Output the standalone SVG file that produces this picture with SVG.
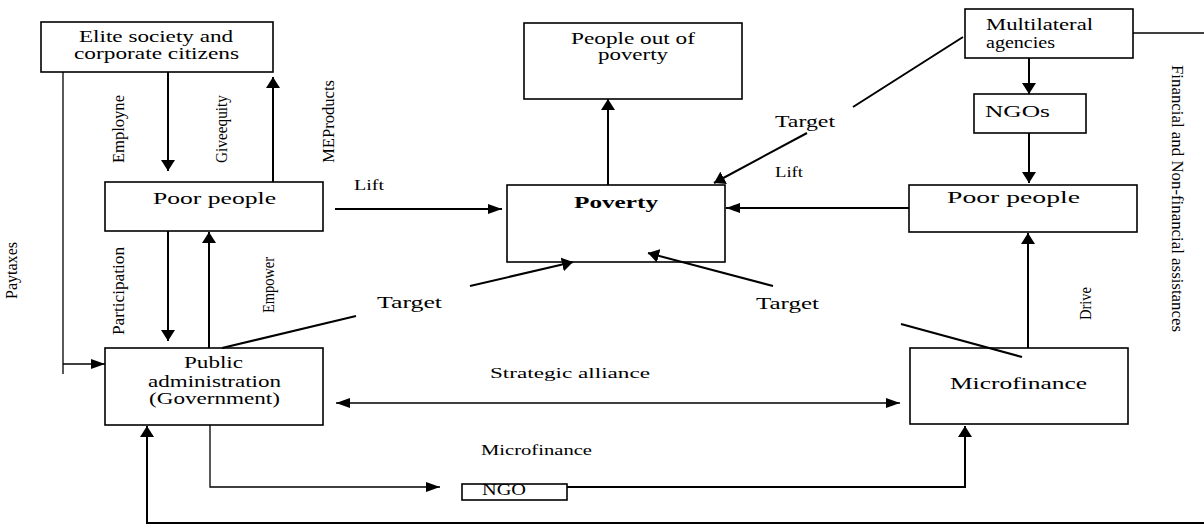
<svg xmlns="http://www.w3.org/2000/svg" width="1204" height="531" viewBox="0 0 1204 531">
<style>
text{font-family:"Liberation Serif","Times New Roman",serif;fill:#000}
.b{font-size:16px}
.s{font-size:14px}
.v{font-size:17px}
.bold{font-weight:bold}
rect{fill:#fff;stroke:#000;stroke-width:1.6}
.c line,.c polyline{fill:none;stroke:#000;stroke-width:2}
.c .t{stroke-width:1.3}
</style>
<defs>
<marker id="ah" markerUnits="userSpaceOnUse" markerWidth="11" markerHeight="14" refX="11" refY="7" orient="auto"><path d="M0,0 L11,7 L0,14 z" fill="#000"/></marker>
<marker id="as" markerUnits="userSpaceOnUse" markerWidth="14" markerHeight="10" refX="14" refY="5" orient="auto-start-reverse"><path d="M0,0 L14,5 L0,10 z" fill="#000"/></marker>
</defs>

<g id="elite"><rect x="41" y="22" width="232" height="50"/>
<text class="b" x="79" y="42" textLength="154" lengthAdjust="spacingAndGlyphs">Elite society and</text>
<text class="b" x="74" y="59" textLength="165" lengthAdjust="spacingAndGlyphs">corporate citizens</text></g>

<g id="poor-left"><rect x="105" y="182" width="218" height="49"/>
<text class="b" x="153" y="204" textLength="123" lengthAdjust="spacingAndGlyphs">Poor people</text></g>

<g id="public"><rect x="105" y="348" width="218" height="77"/>
<text class="b" x="184" y="368" textLength="59" lengthAdjust="spacingAndGlyphs">Public</text>
<text class="b" x="148" y="387" textLength="133" lengthAdjust="spacingAndGlyphs">administration</text>
<text class="b" x="149" y="404" textLength="131" lengthAdjust="spacingAndGlyphs">(Government)</text></g>

<g id="out"><rect x="524" y="23" width="218" height="76"/>
<text class="b" x="571" y="44" textLength="124" lengthAdjust="spacingAndGlyphs">People out of</text>
<text class="b" x="598" y="60" textLength="70" lengthAdjust="spacingAndGlyphs">poverty</text></g>

<g id="poverty"><rect x="507" y="185" width="218" height="77"/>
<text class="b bold" x="574" y="208" textLength="84" lengthAdjust="spacingAndGlyphs">Poverty</text></g>

<g id="multilateral"><rect x="965" y="9" width="168" height="49"/>
<text class="b" x="986" y="30" textLength="107" lengthAdjust="spacingAndGlyphs">Multilateral</text>
<text class="b" x="986" y="48" textLength="69" lengthAdjust="spacingAndGlyphs">agencies</text></g>

<g id="ngos"><rect x="974" y="94" width="112" height="39"/>
<text class="b" x="985" y="117" textLength="65" lengthAdjust="spacingAndGlyphs">NGOs</text></g>

<g id="poor-right"><rect x="909" y="185" width="228" height="47"/>
<text class="b" x="947" y="203" textLength="133" lengthAdjust="spacingAndGlyphs">Poor people</text></g>

<g id="microfinance"><rect x="910" y="348" width="218" height="76"/>
<text class="b" x="950" y="389" textLength="137" lengthAdjust="spacingAndGlyphs">Microfinance</text></g>

<g id="ngo"><rect x="462" y="484" width="105" height="16"/>
<text class="b" x="482" y="495" textLength="44" lengthAdjust="spacingAndGlyphs">NGO</text></g>

<g id="connectors" class="c">
<line x1="168" y1="72" x2="168" y2="171" marker-end="url(#ah)"/>
<line x1="273" y1="182" x2="273" y2="77" marker-end="url(#ah)"/>
<line x1="168" y1="231" x2="168" y2="341" marker-end="url(#ah)"/>
<line x1="209" y1="348" x2="209" y2="232" marker-end="url(#ah)"/>
<polyline class="t" points="63,72 63,374"/>
<line class="t" x1="63" y1="364" x2="105" y2="364" marker-end="url(#as)"/>
<line x1="335" y1="209" x2="502" y2="209" marker-end="url(#as)"/>
<line x1="608" y1="185" x2="608" y2="99" marker-end="url(#ah)"/>
<line x1="909" y1="208" x2="726" y2="208" marker-end="url(#as)"/>
<line x1="1029" y1="58" x2="1029" y2="94" marker-end="url(#ah)"/>
<line x1="1029" y1="133" x2="1029" y2="183" marker-end="url(#ah)"/>
<line x1="1028" y1="348" x2="1028" y2="233" marker-end="url(#ah)"/>
<line class="t" x1="1133" y1="33" x2="1204" y2="33"/>
<line x1="963" y1="37" x2="853" y2="107"/>
<line x1="807" y1="133" x2="714" y2="183" marker-end="url(#ah)"/>
<line x1="222" y1="348" x2="356" y2="316"/>
<line x1="470" y1="286" x2="573" y2="262" marker-end="url(#ah)"/>
<line x1="773" y1="286" x2="648" y2="253" marker-end="url(#ah)"/>
<line x1="901" y1="324" x2="1022" y2="357"/>
<line class="t" x1="336" y1="403" x2="900" y2="403" marker-start="url(#as)" marker-end="url(#as)"/>
<polyline class="t" points="210,425 210,487 440,487" marker-end="url(#as)"/>
<polyline points="567,487 965,487 965,426" marker-end="url(#ah)"/>
<polyline points="1204,523 147,523 147,426" marker-end="url(#ah)"/>
</g>

<g id="labels">
<text class="s" x="354" y="190" textLength="30" lengthAdjust="spacingAndGlyphs">Lift</text>
<text class="s" x="775" y="177" textLength="28" lengthAdjust="spacingAndGlyphs">Lift</text>
<text class="b" x="775" y="127" textLength="60" lengthAdjust="spacingAndGlyphs">Target</text>
<text class="b" x="377" y="308" textLength="65" lengthAdjust="spacingAndGlyphs">Target</text>
<text class="b" x="756" y="309" textLength="63" lengthAdjust="spacingAndGlyphs">Target</text>
<text class="s" x="490" y="378" textLength="160" lengthAdjust="spacingAndGlyphs">Strategic alliance</text>
<text class="s" x="481" y="455" textLength="111" lengthAdjust="spacingAndGlyphs">Microfinance</text>
<text class="v" transform="translate(124,163) rotate(-90)" textLength="68" lengthAdjust="spacingAndGlyphs">Employne</text>
<text class="v" transform="translate(227,163) rotate(-90)" textLength="68" lengthAdjust="spacingAndGlyphs">Giveequity</text>
<text class="v" transform="translate(334,163) rotate(-90)" textLength="83" lengthAdjust="spacingAndGlyphs">MEProducts</text>
<text class="v" transform="translate(17,299) rotate(-90)" textLength="57" lengthAdjust="spacingAndGlyphs">Paytaxes</text>
<text class="v" transform="translate(124,335) rotate(-90)" textLength="88" lengthAdjust="spacingAndGlyphs">Participation</text>
<text class="v" transform="translate(274,313) rotate(-90)" textLength="56" lengthAdjust="spacingAndGlyphs">Empower</text>
<text class="v" transform="translate(1091,320) rotate(-90)" textLength="33" lengthAdjust="spacingAndGlyphs">Drive</text>
<text class="b" transform="translate(1172,65) rotate(90)" textLength="267" lengthAdjust="spacingAndGlyphs">Financial and Non-financial assistances</text>
</g>
</svg>
